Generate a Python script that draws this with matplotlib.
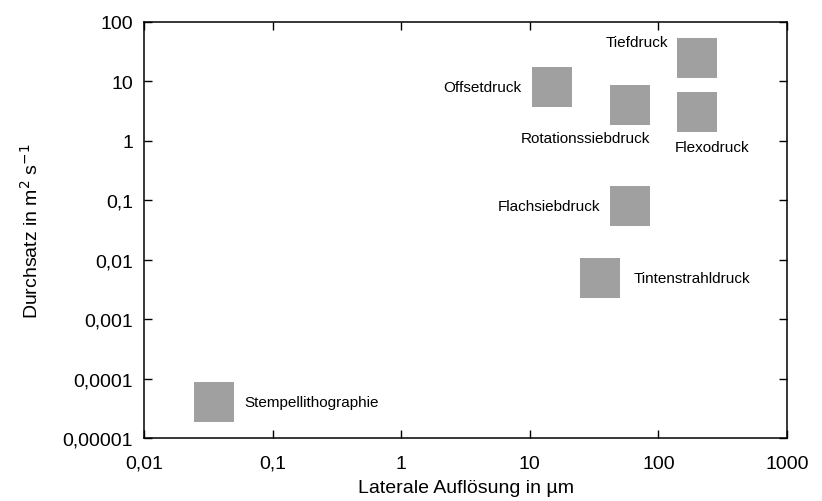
import numpy as np
import matplotlib
matplotlib.use('Agg')
import matplotlib.pyplot as plt
from matplotlib.ticker import FixedLocator, FuncFormatter, NullLocator

plt.rcParams['font.family'] = ['Liberation Sans', 'DejaVu Sans']

# Druckverfahren: laterale Auflösung (µm) und Durchsatz (m^2/s)
verfahren = ['Stempellithographie', 'Offsetdruck', 'Rotationssiebdruck', 'Tiefdruck',
             'Flexodruck', 'Flachsiebdruck', 'Tintenstrahldruck']
aufloesung = [0.035, 15, 60, 200, 200, 60, 35]
durchsatz = [4e-5, 8, 4, 25, 3, 0.08, 0.005]

# label offsets in pixels relative to the square, and alignment
offsets = [(30, 0, 'left'), (-31, 0, 'right'), (-44, -33, 'center'), (-29, 16, 'right'),
           (15, -35, 'center'), (-30, 0, 'right'), (34, 0, 'left')]

fig = plt.figure(figsize=(8.22, 5.02), dpi=100)
ax = fig.add_axes([144 / 822, 1 - 439.3 / 502, 643 / 822, 416.6 / 502])

ax.plot(aufloesung, durchsatz, 's', markersize=28.8, color='#a0a0a0',
        markeredgewidth=0, linestyle='none')

for name, x, y, (dx, dy, ha) in zip(verfahren, aufloesung, durchsatz, offsets):
    ax.annotate(name, (x, y), xytext=(dx, dy), textcoords='offset pixels',
                ha=ha, va='center', fontsize=11)

ax.set_xscale('log')
ax.set_yscale('log')
ax.set_xlim(0.01, 1000)
ax.set_ylim(1e-5, 100)

def komma(v, pos):
    return np.format_float_positional(v, trim='-').replace('.', ',')

ax.xaxis.set_major_locator(FixedLocator([0.01, 0.1, 1, 10, 100, 1000]))
ax.yaxis.set_major_locator(FixedLocator([1e-5, 1e-4, 1e-3, 1e-2, 0.1, 1, 10, 100]))
ax.xaxis.set_minor_locator(NullLocator())
ax.yaxis.set_minor_locator(NullLocator())
ax.xaxis.set_major_formatter(FuncFormatter(komma))
ax.yaxis.set_major_formatter(FuncFormatter(komma))

ax.tick_params(which='major', direction='in', length=5.5, width=1, top=True, right=True,
               labelsize=14)
ax.tick_params(axis='y', pad=8)
ax.tick_params(axis='x', pad=12)
for s in ax.spines.values():
    s.set_linewidth(1.1)

ax.set_xlabel('Laterale Auflösung in µm', fontsize=14, labelpad=5)
ax.set_ylabel('Durchsatz in m$^2$ s$^{-1}$', fontsize=14, labelpad=15)

fig.savefig('out.png', dpi=100)
